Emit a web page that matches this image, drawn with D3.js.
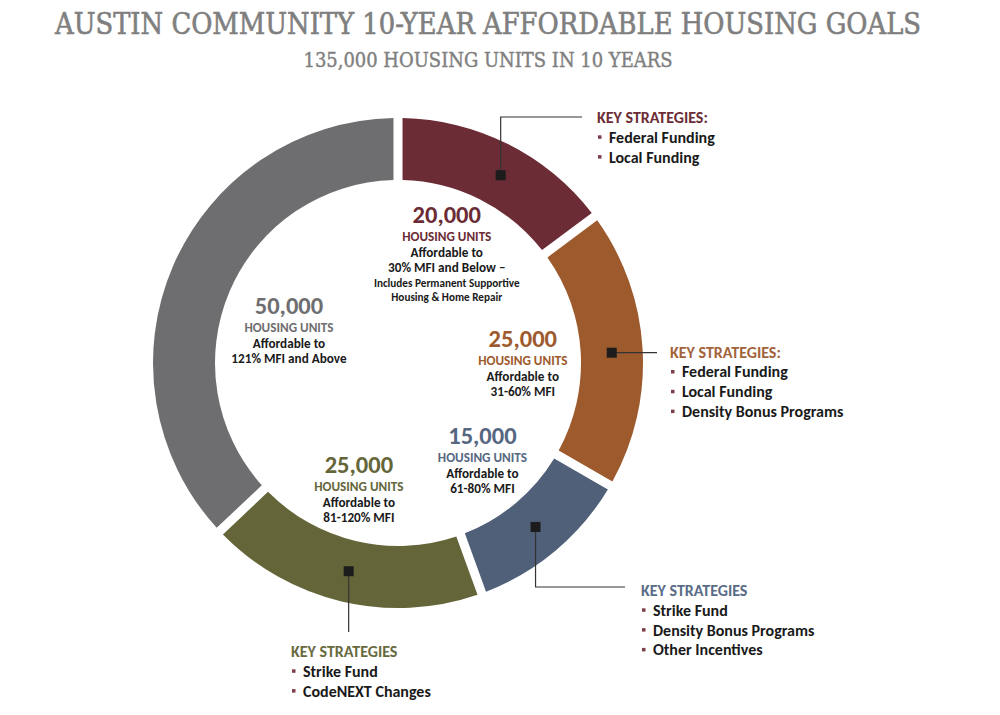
<!DOCTYPE html>
<html>
<head>
<meta charset="utf-8">
<script src="https://cdn.jsdelivr.net/npm/d3@7"></script>
<style>
  body { margin: 0; background: #fff; }
  svg text { font-family: Carlito, Lato, "Open Sans", sans-serif; font-weight: bold; }
</style>
</head>
<body>
<div id="chart"></div>
<script>
/*************** DATA ***************/

var title = "AUSTIN COMMUNITY 10-YEAR AFFORDABLE HOUSING GOALS";
var subtitle = "135,000 HOUSING UNITS IN 10 YEARS";

var units = [20000, 25000, 15000, 25000, 50000];
var incomeBands = ["30% MFI and Below –", "31-60% MFI", "61-80% MFI", "81-120% MFI", "121% MFI and Above"];
var notes = [["Includes Permanent Supportive", "Housing & Home Repair"], [], [], [], []];
var strategyHeads = ["KEY STRATEGIES:", "KEY STRATEGIES:", "KEY STRATEGIES", "KEY STRATEGIES", null];
var strategies = [
    ["Federal Funding", "Local Funding"],
    ["Federal Funding", "Local Funding", "Density Bonus Programs"],
    ["Strike Fund", "Density Bonus Programs", "Other Incentives"],
    ["Strike Fund", "CodeNEXT Changes"],
    []
];

// palette
var colors = ["#6b2c35", "#9d5a2d", "#506079", "#64663a", "#6e6e70"];
var headColors = ["#6b2c35", "#a3633a", "#5a6b86", "#686a3e", "#6e6e70"];
var numColors = ["#6b2c35", "#9d5a2d", "#566782", "#64663a", "#6e6e70"];
var bulletColor = "#7d3f4a";

/*************** LAYOUT ***************/

var width = 1000,
    height = 715,
    cx = 398,
    cy = 363,
    outerR = 245,
    innerR = 183;

var svg = d3.select("#chart").append("svg")
    .attr("width", width)
    .attr("height", height);

svg.append("text")
    .attr("x", 488)
    .attr("y", 34)
    .attr("text-anchor", "middle")
    .attr("textLength", 866)
    .attr("lengthAdjust", "spacingAndGlyphs")
    .style("font-family", "'DejaVu Serif Condensed', 'DejaVu Serif', serif")
    .style("font-weight", "normal")
    .style("font-size", "30px")
    .style("fill", "#7f7f7f")
    .style("stroke", "#7f7f7f")
    .style("stroke-width", 0.6)
    .text(title);

svg.append("text")
    .attr("x", 488)
    .attr("y", 67)
    .attr("text-anchor", "middle")
    .attr("textLength", 369)
    .attr("lengthAdjust", "spacingAndGlyphs")
    .style("font-family", "'DejaVu Serif Condensed', 'DejaVu Serif', serif")
    .style("font-weight", "normal")
    .style("font-size", "20px")
    .style("fill", "#7f7f7f")
    .style("stroke", "#7f7f7f")
    .style("stroke-width", 0.4)
    .text(subtitle);

var pie = d3.pie()
    .sort(null)
    .value(function(d) { return d; })
    .startAngle(0)
    .endAngle(2 * Math.PI);

var arcs = pie(units);

var arc = d3.arc()
    .innerRadius(innerR)
    .outerRadius(outerR)
    .padAngle(0.037)
    .padRadius(outerR);

var g = svg.append("g")
    .attr("transform", "translate(" + cx + "," + cy + ")");

g.selectAll("path.slice")
    .data(arcs)
    .enter().append("path")
    .attr("class", "slice")
    .attr("d", arc)
    .attr("fill", function(d, i) { return colors[i]; });

// point on the ring for a given angle / radius
function polar(a, r) {
    return [Math.sin(a) * r, -Math.cos(a) * r];
}
function mid(d) { return (d.startAngle + d.endAngle) / 2; }

/*************** CENTRE LABELS ***************/

var labelR = 122;
var labelNudge = [[-6, 0], [3, 8], [6, 4], [-11, 8], [3, 16]];
var fmt = d3.format(",");

arcs.forEach(function(d, i) {
    var p = polar(mid(d), labelR);
    var lines = [
        { t: fmt(units[i]), size: 24.5, fill: numColors[i], dy: 0 },
        { t: "HOUSING UNITS", size: 13.2, fill: numColors[i], dy: 18 },
        { t: "Affordable to", size: 13.2, fill: "#1a1a1a", dy: 34 },
        { t: incomeBands[i], size: 13.2, fill: "#1a1a1a", dy: 49 }
    ];
    notes[i].forEach(function(n, k) {
        lines.push({ t: n, size: 11.2, fill: "#1a1a1a", dy: 64 + k * 14 });
    });
    var last = lines[lines.length - 1].dy;
    var top = p[1] + labelNudge[i][1] - (last - 16) / 2 + 0;

    var lg = g.append("g")
        .attr("transform", "translate(" + (p[0] + labelNudge[i][0]) + "," + top + ")");
    lg.selectAll("text")
        .data(lines)
        .enter().append("text")
        .attr("text-anchor", "middle")
        .attr("y", function(l) { return l.dy; })
        .style("font-size", function(l) { return l.size + "px"; })
        .style("fill", function(l) { return l.fill; })
        .text(function(l) { return l.t; });
});

/*************** CALLOUTS ***************/

var markR = (innerR + outerR) / 2;
var markNudge = [0.035, 0.01, 0, 0];
// leader routing: "up"/"down" go vertical to y then across to x; "right" goes straight out
var callouts = [
    { route: "up", y: -246, x: 184, tx: 199, ty: -240 },
    { route: "right", x: 259, tx: 272 },
    { route: "down", y: 224, x: 227, tx: 243, ty: 233 },
    { route: "down", y: 269, tx: -107, ty: 294 }
];

callouts.forEach(function(c, i) {
    var d = arcs[i];
    var m = polar(mid(d) + markNudge[i], markR);
    var pts;
    if (c.route === "right") {
        pts = [m, [c.x, m[1]]];
    } else if (c.x !== undefined) {
        pts = [m, [m[0], c.y], [c.x, c.y]];
    } else {
        pts = [m, [m[0], c.y]];
    }

    g.append("path")
        .attr("d", d3.line()(pts))
        .attr("fill", "none")
        .attr("stroke", "#333")
        .attr("stroke-width", 1.2);

    g.append("rect")
        .attr("x", m[0] - 5)
        .attr("y", m[1] - 5)
        .attr("width", 10)
        .attr("height", 10)
        .attr("fill", "#1c1c1c");

    var ty = (c.route === "right") ? m[1] + 5 : c.ty;
    var tg = g.append("g").attr("transform", "translate(" + c.tx + "," + ty + ")");

    tg.append("text")
        .style("font-size", "16px")
        .style("fill", headColors[i])
        .text(strategyHeads[i]);

    strategies[i].forEach(function(s, k) {
        var yy = 19.8 * (k + 1);
        tg.append("rect")
            .attr("x", 1)
            .attr("y", yy - 7.5)
            .attr("width", 3.5)
            .attr("height", 3.5)
            .attr("fill", bulletColor);
        tg.append("text")
            .attr("x", 12)
            .attr("y", yy)
            .style("font-size", "16px")
            .style("fill", "#1a1a1a")
            .text(s);
    });
});
</script>
</body>
</html>
